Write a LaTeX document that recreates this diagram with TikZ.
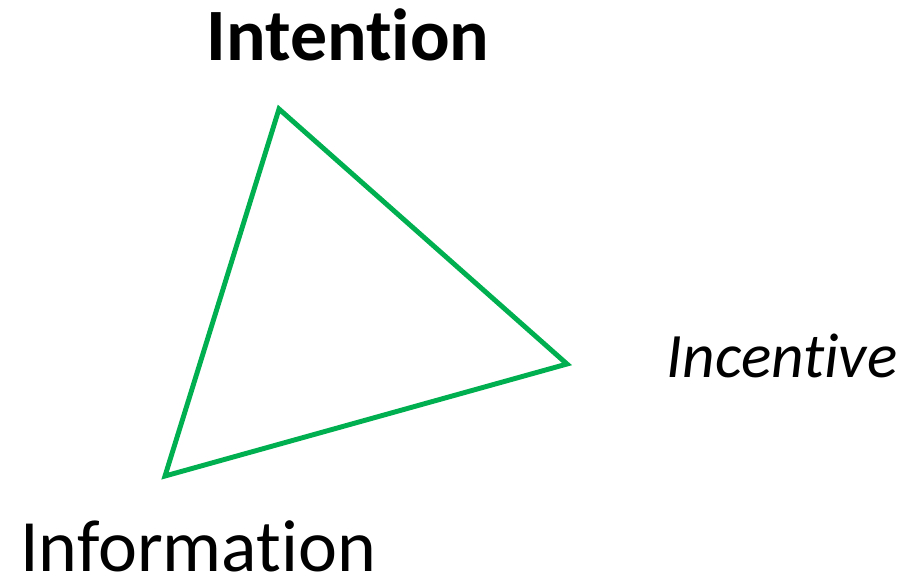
\documentclass[tikz,border=0pt]{standalone}
\usepackage{fontspec}
\setmainfont{Carlito}[Ligatures=NoCommon]
\usepackage{tikz}
\usetikzlibrary{positioning}
\definecolor{TriGreen}{RGB}{0, 176, 80}

\begin{document}
\begin{tikzpicture}[x=0.01cm, y=-0.01cm]
    \useasboundingbox (0,0) rectangle (910,581);

    % Corners of the triangle
    \coordinate (top) at (279,109);
    \coordinate (right) at (567,364);
    \coordinate (left) at (165,476);
    \draw[line width=1.4pt, TriGreen, line join=miter] (top) -- (right) -- (left) -- cycle;

    % Labels
    \node[anchor=base, inner sep=0pt, font=\fontsize{21}{25}\selectfont\bfseries] (intention) at (348,60) {Intention};
    \node[anchor=base, inner sep=0pt, font=\fontsize{18}{22}\selectfont\itshape] (incentive) at (782,377) {Incentive};
    \node[anchor=base, inner sep=0pt, font=\fontsize{21}{25}\selectfont] (information) at (198,571) {Information};
  \end{tikzpicture}
\end{document}
